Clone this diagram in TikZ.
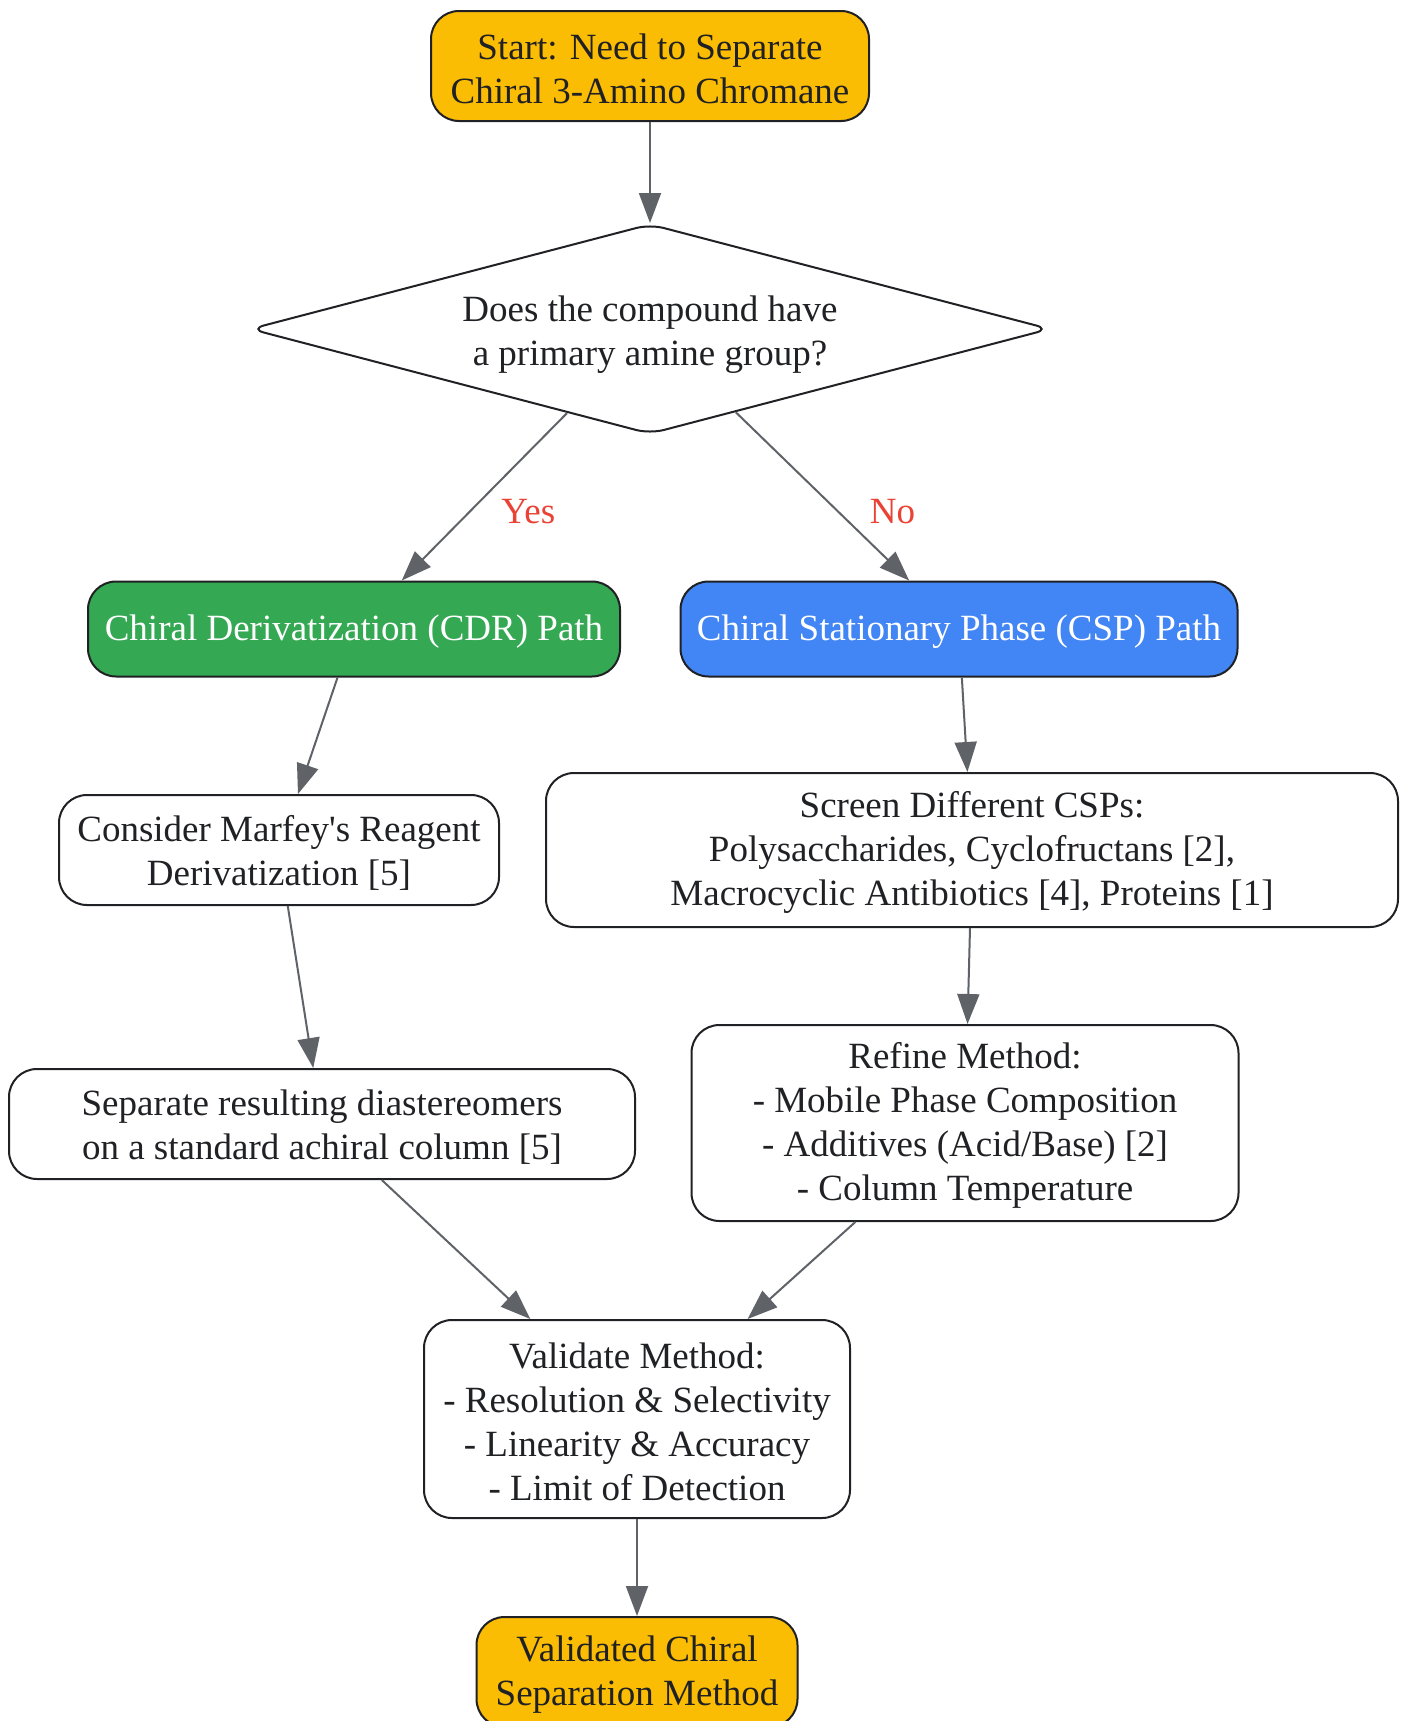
\documentclass[tikz,border=0pt]{standalone}
\usepackage{fontspec}
\setmainfont{Liberation Serif}[Ligatures=TeXOff]
\usetikzlibrary{arrows.meta,shapes.geometric}
\definecolor{ink}{HTML}{202124}
\definecolor{gold}{HTML}{FBBC04}
\definecolor{gr}{HTML}{34A853}
\definecolor{bl}{HTML}{4285F4}
\definecolor{edgegray}{HTML}{5F6368}
\definecolor{lblred}{HTML}{EA4335}
\newcommand{\topstrut}{\rule{0pt}{31pt}}
\newcommand{\decstrut}{\rule{0pt}{37pt}}
\begin{document}
\begin{tikzpicture}[x=1pt,y=-1pt,
  box/.style={draw=ink, line width=2pt, rounded corners=28pt, align=center, inner sep=0pt, text=ink, fill=white, font=\fontsize{37}{44}\selectfont},
  goldbox/.style={box, fill=gold},
  greenbox/.style={box, fill=gr, text=white},
  bluebox/.style={box, fill=bl, text=white},
  decision/.style={draw=ink, line width=2pt, shape=diamond, aspect=3.79, rounded corners=14pt, align=center, inner sep=0pt, text=ink, fill=white, font=\fontsize{37}{44}\selectfont},
  conn/.style={draw=edgegray, line width=2pt, -{Triangle[length=30pt,width=22pt]}},
  lbl/.style={text=lblred, font=\fontsize{37}{44}\selectfont, inner sep=0pt}]
\clip (0,0) rectangle (1407,1721);
\fill[white] (0,0) rectangle (1407,1721);

\node[goldbox, minimum width=438pt, minimum height=110pt] (start) at (650,66) {\topstrut Start: Need to Separate\\Chiral 3-Amino Chromane};
\node[decision, minimum width=800pt, minimum height=210pt] (dec) at (650,329) {\decstrut Does the compound have\\a primary amine group?};
\node[greenbox, minimum width=532pt, minimum height=95pt] (cdr) at (354,629) {\topstrut Chiral Derivatization (CDR) Path};
\node[bluebox, minimum width=557pt, minimum height=95pt] (csp) at (959,629) {\topstrut Chiral Stationary Phase (CSP) Path};
\node[box, minimum width=440pt, minimum height=110pt] (marfey) at (279,850) {\topstrut Consider Marfey's Reagent\\Derivatization [5]};
\node[box, minimum width=852pt, minimum height=154pt] (screen) at (972,850) {\topstrut Screen Different CSPs:\\Polysaccharides, Cyclofructans [2],\\Macrocyclic Antibiotics [4], Proteins [1]};
\node[box, minimum width=626pt, minimum height=110pt] (sep) at (322,1124) {\topstrut Separate resulting diastereomers\\on a standard achiral column [5]};
\node[box, minimum width=547pt, minimum height=196pt] (refine) at (965,1123) {\topstrut Refine Method:\\- Mobile Phase Composition\\- Additives (Acid/Base) [2]\\- Column Temperature};
\node[box, minimum width=426pt, minimum height=198pt] (valid) at (637,1419) {\topstrut Validate Method:\\- Resolution \& Selectivity\\- Linearity \& Accuracy\\- Limit of Detection};
\node[goldbox, minimum width=321pt, minimum height=110pt] (final) at (637,1672) {\topstrut Validated Chiral\\Separation Method};

\draw[conn] (start) -- (dec);
\draw[conn] (dec) -- node[lbl, xshift=44pt, yshift=-15pt] {Yes} (cdr);
\draw[conn] (dec) -- node[lbl, xshift=70pt, yshift=-15pt] {No} (csp);
\draw[conn] (cdr) -- (marfey);
\draw[conn] (marfey) -- (sep);
\draw[conn] (csp) -- (screen);
\draw[conn] (screen) -- (refine);
\draw[conn] (sep) -- (valid);
\draw[conn] (refine) -- (valid);
\draw[conn] (valid) -- (final);
\end{tikzpicture}
\end{document}
